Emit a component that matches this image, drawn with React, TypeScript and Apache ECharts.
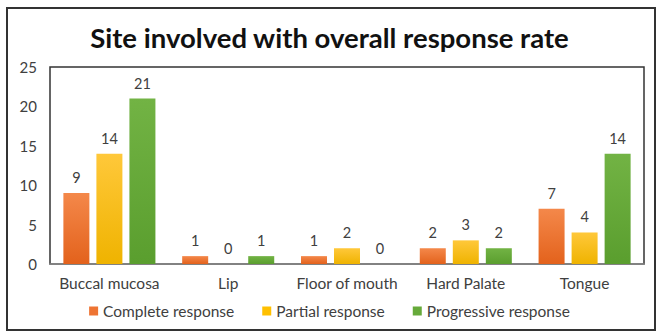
import React, { useEffect, useRef } from "react";
import * as echarts from "echarts";

const categories = ["Buccal mucosa", "Lip", "Floor of mouth", "Hard Palate", "Tongue"];
const complete = [9, 1, 1, 2, 7];
const partial = [14, 0, 2, 3, 4];
const progressive = [21, 1, 0, 2, 14];
const seriesNames = ["Complete response", "Partial response", "Progressive response"];
const title = "Site involved with overall response rate";

const grad = (top: string, bottom: string) =>
  new echarts.graphic.LinearGradient(0, 0, 0, 1, [
    { offset: 0, color: top },
    { offset: 1, color: bottom },
  ]);

export default function App() {
  const ref = useRef<HTMLDivElement>(null);
  useEffect(() => {
    if (!ref.current) return;
    const chart = echarts.init(ref.current, undefined, { renderer: "svg" });
    const font = "Lato, 'Open Sans', sans-serif";
    const label = {
      show: true,
      position: "top" as const,
      distance: 8,
      color: "#404040",
      fontSize: 14.5,
      fontFamily: font,
    };
    const mk = (name: string, data: number[], c: any) => ({
      name,
      type: "bar" as const,
      data,
      barWidth: 26,
      barGap: "27%",
      itemStyle: { color: c },
      label,
    });
    chart.setOption({
      animation: false,
      backgroundColor: "#ffffff",
      title: {
        text: title,
        left: "center",
        top: 18,
        textStyle: { fontFamily: font, fontWeight: "bold", fontSize: 27.5, color: "#111111" },
      },
      grid: {
        left: 50,
        right: 15,
        top: 67,
        bottom: 69,
        show: true,
        borderColor: "#333333",
        borderWidth: 1.5,
        backgroundColor: "transparent",
      },
      legend: {
        bottom: 9,
        left: "center",
        itemWidth: 9,
        itemHeight: 9,
        itemGap: 28,
        icon: "rect",
        textStyle: { fontFamily: font, fontSize: 15.5, color: "#404040" },
        data: seriesNames.map((n, i) => ({
          name: n,
          itemStyle: { color: ["#EE7433", "#FFC000", "#66AA3A"][i] },
        })),
      },
      xAxis: {
        type: "category",
        data: categories,
        axisLine: { lineStyle: { color: "#8c8c8c", width: 1.5 } },
        axisTick: { show: false },
        axisLabel: { interval: 0, fontFamily: font, fontSize: 15.5, color: "#404040", margin: 11 },
      },
      yAxis: {
        type: "value",
        min: 0,
        max: 25,
        interval: 5,
        splitLine: { show: false },
        axisLine: { show: false },
        axisTick: { show: false },
        axisLabel: { fontFamily: font, fontSize: 15, color: "#404040", margin: 13 },
      },
      graphic: [
        {
          type: "rect",
          shape: { x: 7, y: 8, width: 648, height: 322 },
          style: { fill: "none", stroke: "#333333", lineWidth: 2 },
          silent: true,
        },
      ],
      series: [
        mk(seriesNames[0], complete, grad("#F4884A", "#E3621C")),
        mk(seriesNames[1], partial, grad("#FFC83A", "#EFB300")),
        mk(seriesNames[2], progressive, grad("#72B344", "#5A9E2E")),
      ],
    });
    return () => chart.dispose();
  }, []);
  return (
    <div
      ref={ref}
      style={{ position: "fixed", left: 0, top: 0, width: 659, height: 333 }}
    />
  );
}
